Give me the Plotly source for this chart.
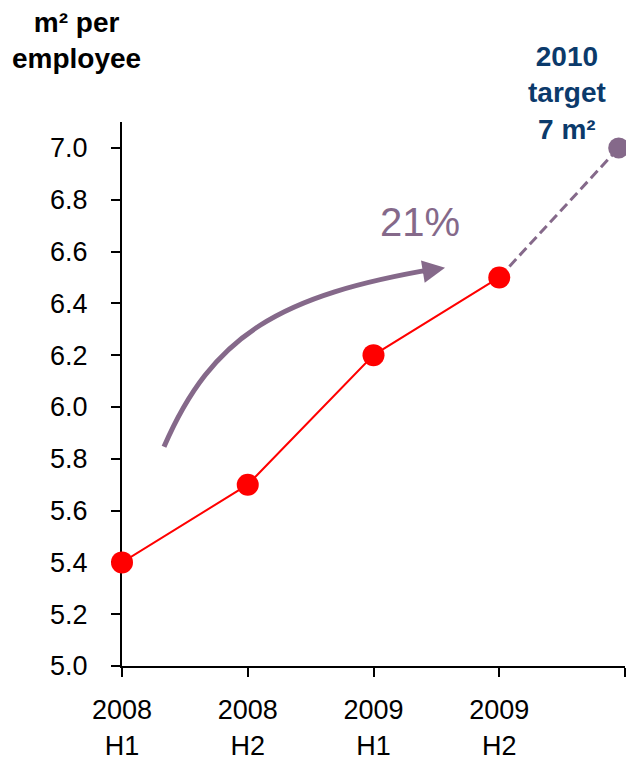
import plotly.graph_objects as go

# ---- data ----
periods = ["2008<br>H1", "2008<br>H2", "2009<br>H1", "2009<br>H2", ""]
x_actual = [0, 1, 2, 3]
y_actual = [5.4, 5.7, 6.2, 6.5]
x_target = [3, 3.95]
y_target = [6.5, 7.0]
y_ticks = [5.0, 5.2, 5.4, 5.6, 5.8, 6.0, 6.2, 6.4, 6.6, 6.8, 7.0]

RED = "#FF0000"
PURPLE = "#85698A"
NAVY = "#0B3A6B"
FONT = "Liberation Sans, Arial, sans-serif"

fig = go.Figure()

# dashed target segment
fig.add_trace(go.Scatter(
    x=x_target, y=y_target, mode="lines",
    line=dict(color=PURPLE, width=3, dash="10px,5px"),
    hoverinfo="skip", showlegend=False, cliponaxis=False))
# target marker
fig.add_trace(go.Scatter(
    x=x_target[1:], y=y_target[1:], mode="markers",
    marker=dict(color=PURPLE, size=21),
    showlegend=False, cliponaxis=False))
# actual values
fig.add_trace(go.Scatter(
    x=x_actual, y=y_actual, mode="lines+markers",
    line=dict(color=RED, width=2),
    marker=dict(color=RED, size=22),
    showlegend=False, cliponaxis=False))

# curved growth arrow (decoration)
fig.add_shape(type="path", xref="x", yref="y",
              path="M 0.334,5.846 C 0.720,6.280 1.256,6.432 2.50,6.534",
              line=dict(color=PURPLE, width=5))
fig.add_annotation(x=2.569, y=6.537, xref="x", yref="y", text="",
                   showarrow=True, ax=-24, ay=4, arrowhead=2,
                   arrowsize=1.0, arrowwidth=4.5, arrowcolor=PURPLE)

fig.add_annotation(x=2.37, y=6.714, xref="x", yref="y", text="21%",
                   showarrow=False, font=dict(family=FONT, size=40, color=PURPLE))
fig.add_annotation(x=-0.0895, y=1.149, xref="paper", yref="paper",
                   xanchor="center", yanchor="middle",
                   text="<b>m² per<br>employee</b>", showarrow=False,
                   font=dict(family=FONT, size=28, color="black"))
fig.add_annotation(x=0.885, y=1.053, xref="paper", yref="paper",
                   xanchor="center", yanchor="middle",
                   text="<b>2010<br>target<br>7 m²</b>", showarrow=False,
                   font=dict(family=FONT, size=28, color=NAVY))

fig.update_layout(
    width=626, height=759,
    margin=dict(l=122, r=1, t=122, b=93),
    paper_bgcolor="white", plot_bgcolor="white",
    font=dict(family=FONT, size=27, color="black"),
    xaxis=dict(range=[0, 4], tickvals=[0, 1, 2, 3, 4], ticktext=periods,
               showgrid=False, zeroline=False, showline=True,
               linecolor="black", linewidth=2, ticks="outside",
               ticklen=9, tickwidth=2, tickcolor="black",
               ticklabelstandoff=10, layer="below traces", automargin=False),
    yaxis=dict(range=[5.0, 7.1], tickvals=y_ticks, tickformat=".1f",
               showgrid=False, zeroline=False, showline=True,
               linecolor="black", linewidth=2, ticks="outside",
               ticklen=9, tickwidth=2, tickcolor="black",
               ticklabelstandoff=18, layer="below traces", automargin=False),
)

fig.write_html("out.html")
